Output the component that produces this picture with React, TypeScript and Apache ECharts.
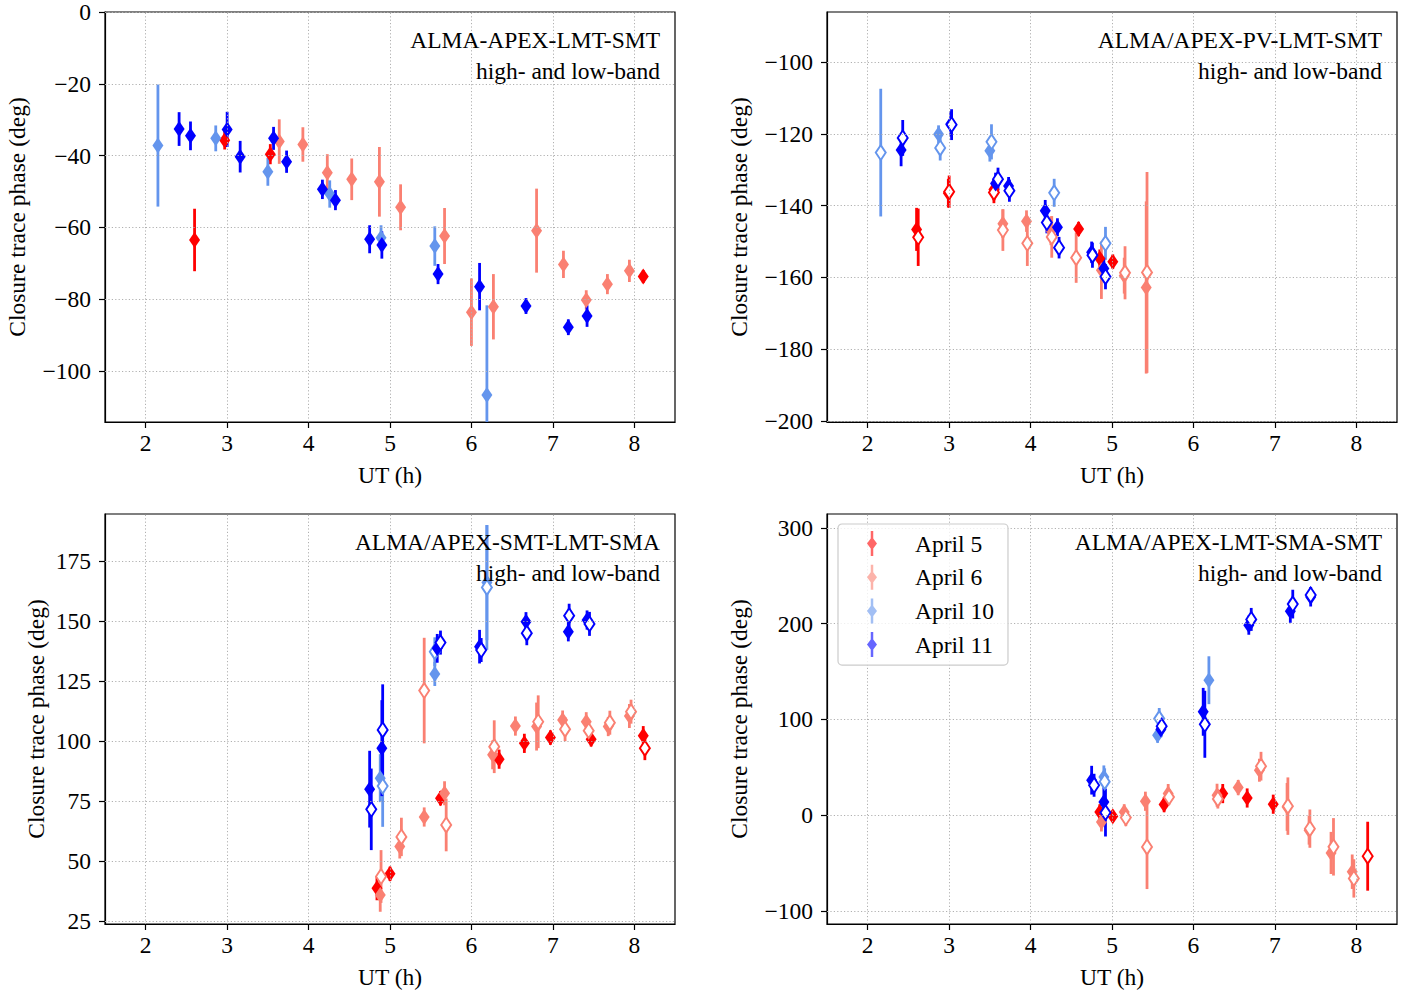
import React, { useEffect, useRef } from 'react';
import * as echarts from 'echarts';

// ---- data: [UT (h), closure trace phase (deg), 1-sigma error (deg)] ----
// Panel 1: ALMA-APEX-LMT-SMT
const p1Apr5High = [[2.60, -63.5, 8.7], [2.97, -35.7, 2.6], [3.53, -39.6, 2.8], [8.11, -73.7, 1.8]];
const p1Apr5Low: number[][] = [];
const p1Apr6High = [[3.64, -36.1, 6.2], [3.93, -36.9, 4.8], [4.23, -44.8, 5.2], [4.53, -46.6, 5.8], [4.87, -47.3, 9.7], [5.13, -54.4, 6.4], [5.67, -62.4, 7.8], [6.0, -83.6, 9.4], [6.27, -82.1, 9.1], [6.80, -60.9, 11.7], [7.13, -70.3, 3.8], [7.41, -80.2, 2.7], [7.67, -75.8, 2.8], [7.94, -72.1, 3.1]];
const p1Apr6Low: number[][] = [];
const p1Apr10High = [[2.15, -37.2, 17], [2.86, -35.2, 3.6], [3.50, -44.5, 3.9], [4.26, -50.7, 3.8], [4.89, -62.9, 3.5], [5.55, -65.2, 5.5], [6.19, -106.7, 25]];
const p1Apr10Low: number[][] = [];
const p1Apr11High = [[2.41, -32.6, 4.7], [2.55, -34.5, 4], [3.0, -32.7, 4.9], [3.16, -40.3, 4.4], [3.57, -35.2, 3.2], [3.73, -41.7, 3.1], [4.17, -49.4, 2.7], [4.33, -52.4, 2.8], [4.75, -63.3, 3.9], [4.90, -64.9, 3.8], [5.59, -73.0, 2.8], [6.10, -76.5, 6.6], [6.67, -81.9, 2.2], [7.19, -87.8, 2.2], [7.42, -84.7, 3]];
const p1Apr11Low: number[][] = [];

// Panel 2: ALMA/APEX-PV-LMT-SMT
const p2Apr5High = [[2.60, -146.6, 6], [2.99, -136.5, 4], [3.55, -135.5, 3], [4.59, -146.5, 2], [4.85, -154.7, 2.5], [5.01, -155.6, 2]];
const p2Apr5Low = [[2.62, -148.8, 8], [3.0, -136.1, 4.5], [3.55, -136.3, 3]];
const p2Apr6High = [[3.66, -145, 4], [3.95, -144.3, 3], [4.25, -147, 4], [4.87, -158, 8], [5.15, -159.5, 5], [5.42, -162.8, 24]];
const p2Apr6Low = [[3.66, -146.8, 5.8], [3.96, -150.5, 6.3], [4.26, -148.7, 5.8], [4.56, -154.5, 7], [5.16, -158.7, 7.4], [5.43, -158.6, 28]];
const p2Apr10High = [[2.87, -120.1, 2.5], [3.50, -124.7, 3]];
const p2Apr10Low = [[2.16, -125.2, 17.8], [2.89, -123.9, 3.5], [3.52, -122.2, 4.9], [4.29, -136.4, 3.9], [4.92, -150.5, 4.6]];
const p2Apr11High = [[2.41, -124.5, 4.5], [3.02, -117.2, 3.5], [3.57, -133.8, 3], [3.73, -134.5, 2.5], [4.18, -141.4, 3], [4.33, -146.0, 2.5], [4.75, -153, 3], [4.90, -157.5, 3]];
const p2Apr11Low = [[2.43, -121.1, 5], [3.03, -117.4, 4.3], [3.60, -132.6, 3.2], [3.74, -135.8, 3.1], [4.20, -144.7, 3], [4.35, -151.7, 3], [4.76, -153.8, 3.5], [4.92, -159.8, 3.5]];

// Panel 3: ALMA/APEX-SMT-LMT-SMA
const p3Apr5High = [[4.84, 38.6, 5], [5.0, 44.6, 3], [5.62, 76.1, 3], [6.34, 92.4, 4], [6.65, 99, 4], [6.97, 101.4, 3], [7.47, 100.7, 3], [8.11, 102.2, 4]];
const p3Apr5Low = [[8.13, 97, 5]];
const p3Apr6High = [[4.88, 35.8, 7], [5.12, 56, 5], [5.42, 68.3, 4], [5.67, 78.2, 5], [6.26, 94.2, 6], [6.54, 106.2, 4], [6.80, 106, 10], [7.12, 108.7, 4], [7.41, 108, 4], [7.68, 106, 4], [7.94, 110.4, 5]];
const p3Apr6Low = [[4.89, 43.5, 11], [5.14, 60, 8], [5.42, 121, 22], [5.69, 65, 11], [6.28, 97.6, 11], [6.82, 108, 11], [7.15, 104.9, 5], [7.44, 104.3, 4], [7.70, 107.6, 5], [7.96, 112.2, 5]];
const p3Apr10High = [[4.88, 84.5, 10], [5.55, 127.9, 5], [6.19, 166, 24]];
const p3Apr10Low = [[4.91, 81.2, 17], [5.55, 137.2, 6], [6.19, 164, 26]];
const p3Apr11High = [[4.75, 79.9, 16], [4.90, 97, 20], [5.58, 138.6, 6], [6.10, 139.3, 7], [6.67, 149.7, 4], [7.19, 145.5, 4], [7.42, 150.4, 4]];
const p3Apr11Low = [[4.77, 71.5, 17], [4.91, 104.6, 19], [5.62, 141, 5], [6.12, 137.9, 5], [6.68, 144.9, 5], [7.20, 152.2, 5], [7.45, 148.8, 5]];

// Panel 4: ALMA/APEX-LMT-SMA-SMT
const p4Apr5High = [[4.85, 3.5, 8], [5.01, -1, 6], [5.64, 11.1, 8], [6.36, 22.6, 10], [6.66, 18, 10], [6.98, 11.5, 10]];
const p4Apr5Low = [[8.14, -42.8, 36]];
const p4Apr6High = [[4.87, -7, 10], [5.15, 3.5, 8], [5.41, 14.6, 10], [5.69, 22.6, 10], [6.29, 20.9, 12], [6.55, 28.9, 8], [6.81, 47, 12], [7.15, 8.7, 25], [7.42, -15.7, 15], [7.69, -39.4, 22], [7.95, -59, 18]];
const p4Apr6Low = [[5.17, -2.4, 9], [5.43, -33.1, 44], [5.70, 19, 8], [6.30, 17, 10], [6.83, 51.2, 15], [7.16, 9.5, 30], [7.43, -14, 20], [7.72, -33, 30], [7.97, -66, 20]];
const p4Apr10High = [[4.90, 40, 12], [5.56, 83.6, 8], [6.19, 141, 25]];
const p4Apr10Low = [[4.91, 35, 14], [5.58, 101, 11]];
const p4Apr11High = [[4.75, 36.6, 15], [4.90, 13.9, 15], [5.60, 89.5, 8], [6.12, 108, 25], [6.68, 198.5, 10], [7.19, 213, 12], [7.44, 228, 10]];
const p4Apr11Low = [[4.78, 31.3, 12], [4.92, 2.8, 25], [5.61, 93, 8], [6.14, 95, 35], [6.71, 204.5, 12], [7.22, 220.5, 15], [7.44, 230, 8]];

// ---- ticks & labels ----
const xTicks = [2, 3, 4, 5, 6, 7, 8];
const p1YTicks = [-100, -80, -60, -40, -20, 0];
const p2YTicks = [-200, -180, -160, -140, -120, -100];
const p3YTicks = [25, 50, 75, 100, 125, 150, 175];
const p4YTicks = [-100, 0, 100, 200, 300];
const dateNames = ['April 5', 'April 6', 'April 10', 'April 11'];
const panelTitles = ['ALMA-APEX-LMT-SMT', 'ALMA/APEX-PV-LMT-SMT', 'ALMA/APEX-SMT-LMT-SMA', 'ALMA/APEX-LMT-SMA-SMT'];
const subTitle = 'high- and low-band';
const xName = 'UT (h)';
const yName = 'Closure trace phase (deg)';

const COLORS = ['#ff0000', '#fa8072', '#6495ed', '#0000ff'];
const FONT = "'Liberation Serif', 'Times New Roman', serif";
const FS = 23.5;

const panelData = [
  [[p1Apr5High, p1Apr5Low], [p1Apr6High, p1Apr6Low], [p1Apr10High, p1Apr10Low], [p1Apr11High, p1Apr11Low]],
  [[p2Apr5High, p2Apr5Low], [p2Apr6High, p2Apr6Low], [p2Apr10High, p2Apr10Low], [p2Apr11High, p2Apr11Low]],
  [[p3Apr5High, p3Apr5Low], [p3Apr6High, p3Apr6Low], [p3Apr10High, p3Apr10Low], [p3Apr11High, p3Apr11Low]],
  [[p4Apr5High, p4Apr5Low], [p4Apr6High, p4Apr6Low], [p4Apr10High, p4Apr10Low], [p4Apr11High, p4Apr11Low]],
];
const panelYTicks = [p1YTicks, p2YTicks, p3YTicks, p4YTicks];
const panelYRange = [[-114.2, 0], [-200.3, -86], [23.7, 194.6], [-113.6, 314.6]];

const grids = [
  { left: 105, top: 12, width: 570, height: 410 },
  { left: 827, top: 12, width: 570, height: 410 },
  { left: 105, top: 514, width: 570, height: 410 },
  { left: 827, top: 514, width: 570, height: 410 },
];
const yNameGaps = [76, 76, 57, 76];

const fmt = (v: number) => (v < 0 ? '\u2212' + Math.abs(v) : String(v));

const LEGEND_ICON = 'path://M4.5,0H7.5V9L12,15L7.5,21V30H4.5V21L0,15L4.5,9Z';

function buildOption() {
  const series: any[] = [];
  const graphic: any[] = [];
  grids.forEach((g, i) => {
    // grid lines
    series.push({
      type: 'scatter',
      xAxisIndex: i,
      yAxisIndex: i,
      data: [[xTicks[0], panelYTicks[i][0]]],
      symbolSize: 0,
      silent: true,
      z: 1,
      markLine: {
        silent: true,
        symbol: ['none', 'none'],
        label: { show: false },
        animation: false,
        lineStyle: { type: [1.2, 2.2], color: '#b0b0b0', width: 1 },
        data: [
          ...xTicks.map((v) => ({ xAxis: v })),
          ...panelYTicks[i].map((v) => ({ yAxis: v })),
        ],
      },
    });
    panelData[i].forEach((bands, d) => {
      const color = COLORS[d];
      bands.forEach((arr, b) => {
        if (!arr.length) return;
        series.push({
          type: 'custom',
          name: dateNames[d],
          xAxisIndex: i,
          yAxisIndex: i,
          data: arr,
          z: 2,
          silent: true,
          renderItem: (params: any, api: any) => {
            const x = api.value(0);
            const y = api.value(1);
            const e = api.value(2);
            const p1 = api.coord([x, y - e]);
            const p2 = api.coord([x, y + e]);
            const cs = params.coordSys;
            const clamp = (v: number) => Math.max(cs.y, Math.min(cs.y + cs.height, v));
            return {
              type: 'line',
              shape: { x1: p1[0], y1: clamp(p1[1]), x2: p2[0], y2: clamp(p2[1]) },
              style: { stroke: color, lineWidth: 2.8 },
            };
          },
        });
        series.push({
          type: 'scatter',
          name: dateNames[d],
          xAxisIndex: i,
          yAxisIndex: i,
          data: arr.map((p) => [p[0], p[1]]),
          symbol: 'diamond',
          symbolSize: b === 0 ? [11, 16] : [10, 15],
          z: 2,
          silent: true,
          itemStyle:
            b === 0
              ? { color, opacity: 1 }
              : { color: '#ffffff', borderColor: color, borderWidth: 2, opacity: 1 },
        });
      });
    });
    graphic.push({
      type: 'text',
      x: g.left + g.width - 15,
      y: g.top + 28,
      style: { text: panelTitles[i], align: 'right', verticalAlign: 'middle', font: `${FS}px ${FONT}`, fill: '#000' },
      z: 10,
    });
    graphic.push({
      type: 'text',
      x: g.left + g.width - 15,
      y: g.top + 59,
      style: { text: subTitle, align: 'right', verticalAlign: 'middle', font: `${FS}px ${FONT}`, fill: '#000' },
      z: 10,
    });
  });

  const axisLine = { show: true, onZero: false, lineStyle: { color: '#000', width: 1.2 } };
  const axisTick = { show: true, inside: false, length: 6, lineStyle: { color: '#000', width: 1.2 } };

  return {
    animation: false,
    backgroundColor: '#ffffff',
    textStyle: { fontFamily: FONT },
    grid: grids.map((g) => ({
      ...g,
      containLabel: false,
      outerBoundsMode: 'none',
      show: true,
      borderColor: '#000',
      borderWidth: 1.2,
      backgroundColor: 'transparent',
    })),
    xAxis: grids.map((g, i) => ({
      type: 'value',
      gridIndex: i,
      min: 1.5,
      max: 8.5,
      splitNumber: 7,
      name: xName,
      nameLocation: 'middle',
      nameGap: 41,
      nameTextStyle: { fontFamily: FONT, fontSize: FS, color: '#000' },
      axisLine,
      axisTick: { ...axisTick, customValues: xTicks },
      axisLabel: {
        customValues: xTicks,
        formatter: fmt,
        fontFamily: FONT,
        fontSize: FS,
        color: '#000',
        margin: 9,
      },
      splitLine: { show: false },
    })),
    yAxis: grids.map((g, i) => ({
      type: 'value',
      gridIndex: i,
      min: panelYRange[i][0],
      max: panelYRange[i][1],
      name: yName,
      nameLocation: 'middle',
      nameGap: yNameGaps[i],
      nameRotate: 90,
      nameTextStyle: { fontFamily: FONT, fontSize: FS, color: '#000' },
      axisLine,
      axisTick: { ...axisTick, customValues: panelYTicks[i] },
      axisLabel: {
        customValues: panelYTicks[i],
        formatter: fmt,
        fontFamily: FONT,
        fontSize: FS,
        color: '#000',
        margin: 14,
      },
      splitLine: { show: false },
    })),
    legend: {
      show: true,
      orient: 'vertical',
      left: 838,
      top: 524,
      padding: [7, 14, 8, 29],
      itemWidth: 50,
      itemHeight: 25,
      itemGap: 8.7,
      backgroundColor: 'rgba(255,255,255,0.8)',
      borderColor: '#cccccc',
      borderWidth: 1.2,
      borderRadius: 4,
      selectedMode: false,
      textStyle: { fontFamily: FONT, fontSize: FS, color: '#000', padding: [0, 0, 0, 13] },
      data: dateNames.map((n, d) => ({
        name: n,
        icon: LEGEND_ICON,
        itemStyle: { color: COLORS[d], opacity: 0.6, borderWidth: 0 },
      })),
      z: 20,
    },
    graphic,
    series,
  };
}

export default function App() {
  const ref = useRef<HTMLDivElement>(null);
  useEffect(() => {
    if (!ref.current) return;
    const chart = echarts.init(ref.current, null, { renderer: 'svg' });
    chart.setOption(buildOption() as any);
    return () => chart.dispose();
  }, []);
  return (
    <div
      ref={ref}
      style={{ position: 'absolute', left: 0, top: 0, width: 1419, height: 994, background: '#fff' }}
    />
  );
}
